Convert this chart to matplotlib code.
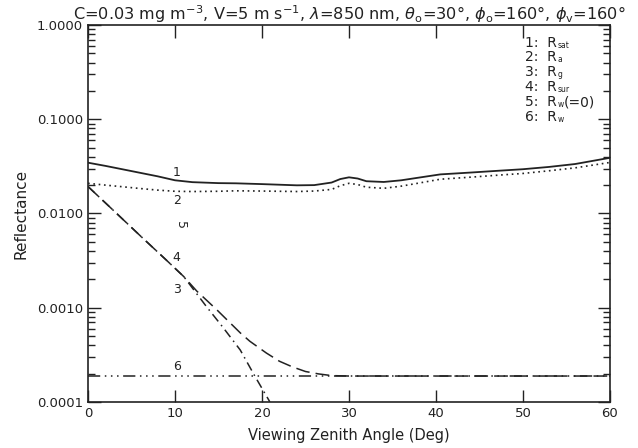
import matplotlib
matplotlib.use("Agg")
import matplotlib.pyplot as plt
from matplotlib.ticker import FixedLocator, LogLocator, NullFormatter

# ---- data ----
ang_top = [0, 2, 4, 6, 8, 10, 12, 15, 17, 20, 24, 26, 28, 29, 30, 31, 32, 34, 36, 38, 40.5, 44, 47.4, 50, 53, 56, 60]
r_sat = [0.0346, 0.0320, 0.0294, 0.0270, 0.0248, 0.0225, 0.0215, 0.0210, 0.0209, 0.0205, 0.0199, 0.0200, 0.0213, 0.0232, 0.0242, 0.0235, 0.0220, 0.0216, 0.0225, 0.0240, 0.0260, 0.0272, 0.0285, 0.0295, 0.0312, 0.0335, 0.0390]
r_a = [0.0209, 0.0200, 0.0192, 0.0184, 0.0177, 0.0172, 0.0171, 0.0172, 0.0174, 0.0173, 0.0171, 0.0173, 0.0180, 0.0197, 0.0209, 0.0203, 0.0190, 0.0185, 0.0195, 0.0210, 0.0231, 0.0243, 0.0256, 0.0266, 0.0284, 0.0305, 0.0348]

ang_g = [0, 3, 6, 9, 11.0, 13.6, 15.5, 17.5, 19.2, 20.9]
r_g = [0.0193, 0.0106, 0.0058, 0.0032, 0.00214, 0.00103, 0.00062, 0.000355, 0.000186, 0.0001]

ang_sur = [0, 3, 6, 9, 11.0, 12.5, 14.8, 17.5, 18.6, 20.5, 22, 23.5, 25, 26.5, 28, 30, 35, 40, 50, 60]
r_sur = [0.0193, 0.0106, 0.0058, 0.0032, 0.00214, 0.00150, 0.00095, 0.00054, 0.00044, 0.00033, 0.00027, 0.000235, 0.00021, 0.000198, 0.00019, 0.000188, 0.000188, 0.000188, 0.000188, 0.000188]

ang_w = [0, 60]
r_w = [0.000188, 0.000188]

legend_main = ["1:  R", "2:  R", "3:  R", "4:  R", "5:  R", "6:  R"]
legend_sub = ["sat", "a", "g", "sur", "w", "w"]
legend_tail = ["", "", "", "", "(=0)", ""]
title = (r"C=0.03 mg m$^{-3}$, V=5 m s$^{-1}$, $\lambda$=850 nm, $\theta_{\rm o}$=30$\degree$, "
         r"$\phi_{\rm o}$=160$\degree$, $\phi_{\rm v}$=160$\degree$")
y_ticks = [1e-4, 1e-3, 1e-2, 1e-1, 1.0]
y_ticklabels = ["0.0001", "0.0010", "0.0100", "0.1000", "1.0000"]
x_ticks = [0, 10, 20, 30, 40, 50, 60]

# ---- figure ----
plt.rcParams['font.family'] = ['DejaVu Sans']
plt.rcParams['mathtext.fontset'] = 'dejavusans'
fig = plt.figure(figsize=(6.38, 4.48), dpi=100)
ax = fig.add_axes([0.138, 0.103, 0.818, 0.841])

ink = '#222222'
lw = 1.1
ax.plot(ang_top, r_sat, color=ink, lw=1.3, ls='-')
ax.plot(ang_top, r_a, color=ink, lw=1.2, ls=(0, (1, 2.2)))
ax.plot(ang_g, r_g, color=ink, lw=lw, ls=(0, (6, 3, 1, 3)))
ax.plot(ang_sur, r_sur, color=ink, lw=lw, ls=(0, (9, 4)))
ax.plot(ang_w, r_w, color=ink, lw=lw, ls=(0, (8, 3, 1, 3, 1, 3, 1, 3)))

ax.set_yscale('log')
ax.set_xlim(0, 60)
ax.set_ylim(1e-4, 1.0)
ax.yaxis.set_major_locator(FixedLocator(y_ticks))
ax.set_yticklabels(y_ticklabels)
ax.yaxis.set_minor_locator(LogLocator(base=10, subs=range(2, 10)))
ax.yaxis.set_minor_formatter(NullFormatter())
ax.xaxis.set_major_locator(FixedLocator(x_ticks))
ax.set_xticklabels([str(v) for v in x_ticks])

ax.tick_params(which='both', direction='in', top=True, right=True, colors=ink, labelsize=9.5)
ax.tick_params(which='major', length=9, width=1)
ax.tick_params(which='minor', length=5, width=1)
for s in ax.spines.values():
    s.set_color(ink)
    s.set_linewidth(1.2)

ax.set_xlabel("Viewing Zenith Angle (Deg)", fontsize=10.5, color=ink, labelpad=6)
ax.set_ylabel("Reflectance", fontsize=11, color=ink, labelpad=6)
ax.set_title(title, fontsize=11.6, color=ink, pad=3)

# curve number labels
for lbl, xv, yv in [("1", 10.2, 0.027), ("2", 10.2, 0.0139), ("4", 10.2, 0.0034),
                    ("3", 10.2, 0.00155), ("6", 10.2, 0.000235)]:
    ax.text(xv, yv, lbl, fontsize=9, ha='center', va='center', color=ink)
ax.text(10.6, 0.0076, "5", fontsize=9, ha='center', va='center', rotation=-90, color=ink)

# legend text block
for i in range(len(legend_main)):
    main = ax.text(0.837, 0.935 - i * 0.0395, legend_main[i], transform=ax.transAxes,
                   fontsize=10, ha='left', va='bottom', color=ink)
    sub = ax.annotate(legend_sub[i], xy=(1, 0), xycoords=main, xytext=(0.5, 0),
                      textcoords='offset points', fontsize=5.5, ha='left', va='bottom', color=ink)
    if legend_tail[i]:
        ax.annotate(legend_tail[i], xy=(1, 0), xycoords=(sub, main), xytext=(0.5, 0),
                    textcoords='offset points', fontsize=10, ha='left', va='bottom', color=ink)

fig.savefig("out.png", dpi=100)
